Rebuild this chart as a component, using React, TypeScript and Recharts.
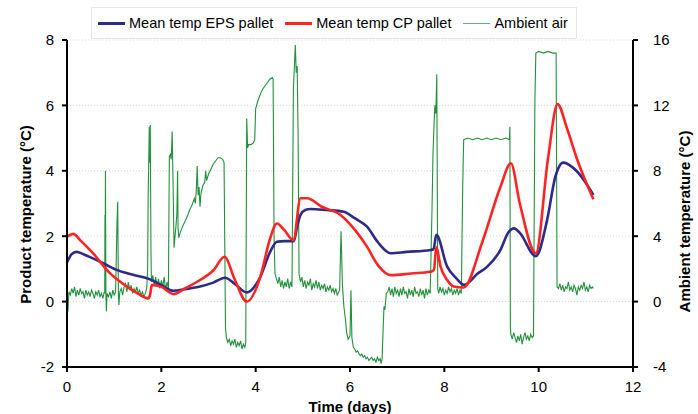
import React from 'react';
import { ComposedChart, Line, XAxis, YAxis, CartesianGrid, Legend } from 'recharts';

// Time (days), product temperature (°C)
const epsPallet: [number, number][] = [
  [0, 1.2], [0.1, 1.45], [0.2, 1.52], [0.35, 1.45], [0.55, 1.32], [0.8, 1.15], [1.05, 0.97],
  [1.4, 0.82], [1.76, 0.68], [2.0, 0.5], [2.26, 0.33], [2.5, 0.38], [2.82, 0.46], [3.1, 0.58],
  [3.35, 0.73], [3.55, 0.55], [3.81, 0.28], [4.1, 0.76], [4.3, 1.5], [4.45, 1.83], [4.6, 1.85],
  [4.81, 1.85], [4.88, 2.3], [4.95, 2.65], [5.05, 2.8], [5.16, 2.83], [5.5, 2.8], [5.87, 2.75],
  [6.1, 2.55], [6.36, 2.29], [6.6, 1.8], [6.86, 1.48], [7.2, 1.52], [7.71, 1.58], [7.77, 1.6],
  [7.83, 2.04], [8.06, 1.07], [8.25, 0.72], [8.42, 0.51], [8.7, 0.85], [8.91, 1.07], [9.19, 1.58],
  [9.35, 2.1], [9.48, 2.24], [9.6, 2.1], [9.94, 1.39], [10.18, 2.5], [10.35, 3.8], [10.52, 4.25],
  [10.82, 3.97], [11.16, 3.26],
];

const cpPallet: [number, number][] = [
  [0, 1.98], [0.13, 2.07], [0.3, 1.85], [0.55, 1.48], [0.91, 0.87], [1.27, 0.46], [1.5, 0.25],
  [1.72, 0.1], [1.76, 0.2], [1.8, 0.51], [2.0, 0.45], [2.26, 0.23], [2.5, 0.4], [2.82, 0.66],
  [3.1, 0.95], [3.34, 1.37], [3.55, 0.7], [3.81, 0.0], [4.1, 0.76], [4.3, 1.9], [4.45, 2.39],
  [4.6, 2.2], [4.8, 1.88], [4.95, 3.16], [5.09, 3.16], [5.4, 2.9], [5.8, 2.65], [6.1, 2.2],
  [6.36, 1.68], [6.6, 1.1], [6.86, 0.81], [7.3, 0.86], [7.71, 0.91], [7.78, 0.97], [7.83, 1.67],
  [7.92, 1.07], [8.06, 0.66], [8.2, 0.46], [8.41, 0.43], [8.8, 1.8], [9.19, 3.51], [9.41, 4.23],
  [9.6, 3.0], [9.94, 1.48], [10.2, 4.4], [10.4, 6.04], [10.6, 5.3], [10.82, 4.33], [11.16, 3.13],
];

// Time (days), ambient air temperature (°C)
const ambientAir: [number, number][] = [
  [0, 0.3], [0.02, -0.6], [0.04, 0.6], [0.07, 0.4], [0.1, 0.8], [0.13, 0.5], [0.16, 0.9], [0.19, 0.3],
  [0.22, 0.7], [0.25, 0.4], [0.28, 0.8], [0.31, 0.5], [0.34, 0.6], [0.37, 0.2], [0.4, 0.7], [0.43, 0.4],
  [0.46, 0.6], [0.49, 0.3], [0.52, 0.7], [0.55, 0.5], [0.58, 0.2], [0.61, 0.6], [0.64, 0.4], [0.67, 0.7],
  [0.7, 0.3], [0.73, 0.5], [0.76, 0.2], [0.79, 0.6], [0.8, 0.5], [0.805, 5.3], [0.81, 3.0], [0.815, 8.0],
  [0.825, 0.4], [0.835, -0.6], [0.85, 0.5], [0.88, 0.3], [0.91, 0.6], [0.94, 0.2], [0.97, 0.7], [1.0, 0.4],
  [1.03, 0.6], [1.06, 4.8], [1.075, 6.1], [1.09, 0.5], [1.1, -0.2], [1.12, 0.6], [1.15, 0.8], [1.18, 0.4],
  [1.21, 0.9], [1.24, 1.1], [1.27, 0.6], [1.3, 1.2], [1.33, 0.7], [1.36, 1.0], [1.39, 0.5], [1.42, 0.8],
  [1.45, 0.6], [1.48, 0.9], [1.51, 0.5], [1.54, 0.7], [1.57, 0.4], [1.6, 0.6], [1.63, 0.3], [1.66, 0.5],
  [1.69, 0.8], [1.71, 2.0], [1.72, 6.4], [1.73, 8.0], [1.745, 10.7], [1.755, 8.5], [1.765, 10.8],
  [1.78, 3.0], [1.79, 1.2], [1.82, 1.6], [1.85, 1.0], [1.88, 1.5], [1.91, 0.9], [1.94, 1.4], [1.97, 0.8],
  [2.0, 1.3], [2.03, 0.9], [2.06, 1.5], [2.09, 0.7], [2.12, 1.2], [2.15, 0.8], [2.17, 8.9], [2.19, 9.0],
  [2.21, 8.7], [2.23, 10.4], [2.25, 7.0], [2.27, 3.3], [2.29, 4.0], [2.31, 4.6], [2.33, 5.4], [2.345, 8.0],
  [2.355, 4.5], [2.37, 3.9], [2.4, 4.2], [2.45, 4.6], [2.5, 4.9], [2.55, 5.2], [2.6, 5.6], [2.65, 5.9],
  [2.7, 6.3], [2.72, 6.0], [2.74, 6.7], [2.76, 8.3], [2.78, 6.5], [2.8, 7.0], [2.82, 5.8], [2.84, 6.6],
  [2.88, 7.1], [2.92, 7.3], [2.94, 8.0], [2.96, 7.4], [3.0, 7.8], [3.05, 8.1], [3.1, 8.4], [3.15, 8.6],
  [3.2, 8.8], [3.25, 8.8], [3.3, 8.7], [3.33, 8.5], [3.36, -1.6], [3.38, -2.2], [3.41, -2.5], [3.44, -2.3],
  [3.47, -2.7], [3.5, -2.4], [3.53, -2.6], [3.56, -2.3], [3.59, -2.8], [3.62, -2.5], [3.65, -2.7],
  [3.68, -2.4], [3.71, -2.9], [3.74, -2.6], [3.77, -2.8], [3.79, -2.5], [3.81, 11.2], [3.83, 9.4],
  [3.85, 9.6], [3.9, 9.6], [3.95, 9.7], [3.98, 9.9], [4.0, 11.8], [4.05, 12.3], [4.1, 12.7], [4.15, 13.0],
  [4.2, 13.2], [4.25, 13.4], [4.3, 13.6], [4.35, 13.7], [4.37, 13.6], [4.39, 4.0], [4.41, 1.7], [4.44, 1.4],
  [4.47, 1.1], [4.5, 1.5], [4.53, 0.9], [4.56, 1.3], [4.59, 0.8], [4.62, 1.2], [4.65, 0.9], [4.68, 1.4],
  [4.71, 0.8], [4.74, 1.2], [4.77, 0.9], [4.8, 13.0], [4.82, 14.3], [4.84, 15.7], [4.86, 14.0], [4.88, 14.4],
  [4.9, 10.0], [4.92, 1.7], [4.95, 1.2], [4.98, 1.5], [5.01, 0.9], [5.04, 1.3], [5.07, 0.8], [5.1, 1.2],
  [5.13, 1.0], [5.16, 1.4], [5.19, 0.7], [5.22, 1.1], [5.25, 0.9], [5.28, 1.3], [5.31, 0.8], [5.34, 1.2],
  [5.37, 0.7], [5.4, 1.0], [5.43, 0.8], [5.46, 1.1], [5.49, 0.6], [5.52, 0.9], [5.55, 0.7], [5.58, 1.0],
  [5.61, 0.6], [5.64, 0.8], [5.67, 0.5], [5.7, 0.8], [5.73, 0.4], [5.78, 0.7], [5.81, 4.3], [5.84, 1.0],
  [5.87, -0.3], [5.9, -1.0], [5.93, -1.9], [5.96, -2.3], [6.0, -2.1], [6.02, 0.7], [6.04, -2.2],
  [6.07, -2.8], [6.1, -2.9], [6.13, -3.1], [6.16, -3.0], [6.19, -3.2], [6.22, -3.3], [6.25, -3.2],
  [6.28, -3.4], [6.31, -3.3], [6.34, -3.5], [6.37, -3.4], [6.4, -3.6], [6.43, -3.5], [6.46, -3.4],
  [6.49, -3.6], [6.52, -3.5], [6.55, -3.7], [6.58, -3.4], [6.61, -3.6], [6.64, -3.5], [6.66, -3.8],
  [6.68, -3.5], [6.72, -0.3], [6.74, -0.5], [6.77, 0.5], [6.8, 0.6], [6.83, 0.9], [6.86, 0.4], [6.89, 0.8],
  [6.92, 0.3], [6.95, 0.9], [6.98, 0.5], [7.01, 0.7], [7.04, 0.3], [7.07, 0.8], [7.1, 0.4], [7.13, 0.9],
  [7.16, 0.5], [7.19, 0.6], [7.22, 0.2], [7.25, 0.8], [7.28, 0.4], [7.31, 0.7], [7.34, 0.3], [7.37, 0.9],
  [7.4, 0.5], [7.43, 0.6], [7.46, 0.3], [7.49, 0.8], [7.52, 0.4], [7.55, 0.7], [7.58, 0.2], [7.61, 0.8],
  [7.64, 0.4], [7.67, 0.7], [7.7, 0.5], [7.74, 5.8], [7.76, 9.1], [7.78, 10.7], [7.8, 12.0], [7.82, 11.5],
  [7.84, 13.9], [7.86, 0.8], [7.88, 0.5], [7.91, 0.9], [7.94, 0.6], [7.97, 0.8], [8.0, 0.4], [8.03, 0.7],
  [8.06, 0.5], [8.09, 0.9], [8.12, 0.6], [8.15, 0.8], [8.18, 0.4], [8.21, 0.7], [8.24, 0.5], [8.27, 0.8],
  [8.3, 0.4], [8.33, 0.7], [8.36, 0.5], [8.39, 7.1], [8.41, 9.9], [8.5, 10.0], [8.6, 9.9], [8.7, 10.0],
  [8.8, 9.9], [8.9, 10.0], [9.0, 9.9], [9.1, 10.0], [9.2, 9.9], [9.3, 10.0], [9.38, 9.9], [9.39, 10.7],
  [9.4, -1.5], [9.41, -2.0], [9.44, -2.3], [9.47, -1.9], [9.5, -2.2], [9.53, -2.5], [9.56, -2.1],
  [9.59, -2.4], [9.62, -2.0], [9.65, -2.6], [9.68, -2.2], [9.71, -1.9], [9.74, -2.3], [9.77, -2.1],
  [9.8, -2.4], [9.83, -2.0], [9.86, -2.2], [9.89, -2.1], [9.92, 12.3], [9.94, 15.2], [10.0, 15.3],
  [10.1, 15.2], [10.2, 15.3], [10.3, 15.2], [10.37, 15.2], [10.39, 0.9], [10.42, 0.8], [10.45, 1.1],
  [10.48, 0.7], [10.51, 1.0], [10.54, 0.6], [10.57, 0.9], [10.6, 0.8], [10.63, 1.2], [10.66, 0.7],
  [10.69, 0.9], [10.72, 0.6], [10.75, 1.0], [10.78, 0.8], [10.81, 0.4], [10.84, 0.9], [10.87, 0.7],
  [10.9, 1.0], [10.93, 0.8], [10.96, 1.2], [10.99, 0.7], [11.02, 0.9], [11.05, 0.6], [11.08, 1.0],
  [11.11, 0.8], [11.14, 0.9], [11.16, 0.8],
];

const xTicks = [0, 2, 4, 6, 8, 10, 12];
const leftTicks = [-2, 0, 2, 4, 6, 8];
const rightTicks = [-4, 0, 4, 8, 12, 16];

const seriesNames = ['Mean temp EPS pallet', 'Mean temp CP pallet', 'Ambient air'];

const toRows = (arr: [number, number][]) => arr.map(([t, v]) => ({ t, v }));
const epsRows = toRows(epsPallet);
const cpRows = toRows(cpPallet);
const ambRows = toRows(ambientAir);

const FONT = '"Liberation Sans", Arial, sans-serif';
const BLUE = '#2D2A88';
const RED = '#FF2424';
const GREEN = '#22913C';
const legendColors = [BLUE, RED, '#6fae85'];

const LeftTitle = (props: any) => {
  const vb = props.viewBox || {};
  const cx = (vb.x ?? 0) + 25;
  const cy = (vb.y ?? 0) + (vb.height ?? 0) / 2 + 11;
  return (
    <text x={cx} y={cy} transform={`rotate(-90 ${cx} ${cy})`} textAnchor="middle"
      dominantBaseline="central" fontFamily={FONT} fontSize={15} fontWeight="bold" fill="#000">
      Product temperature (°C)
    </text>
  );
};

const RightTitle = (props: any) => {
  const vb = props.viewBox || {};
  const cx = (vb.x ?? 0) + 51;
  const cy = (vb.y ?? 0) + (vb.height ?? 0) / 2 + 18;
  return (
    <text x={cx} y={cy} transform={`rotate(-90 ${cx} ${cy})`} textAnchor="middle"
      dominantBaseline="central" fontFamily={FONT} fontSize={15} fontWeight="bold" fill="#000">
      Ambient temperature (°C)
    </text>
  );
};

const BottomTitle = (props: any) => {
  const vb = props.viewBox || {};
  const cx = (vb.x ?? 0) + (vb.width ?? 0) / 2;
  const cy = (vb.y ?? 0) + 39;
  return (
    <text x={cx} y={cy} textAnchor="middle" dominantBaseline="central"
      fontFamily={FONT} fontSize={15} fontWeight="bold" fill="#000">
      Time (days)
    </text>
  );
};

const LegendBox = () => {
  return (
    <div style={{
      border: '1px solid #e6e6e6', background: '#fff', height: 32, boxSizing: 'border-box',
      display: 'flex', alignItems: 'center', padding: '0 0 0 6px', fontFamily: FONT, fontSize: 14.5,
      color: '#000', whiteSpace: 'nowrap',
    }}>
      {seriesNames.map((name, i) => (
        <span key={name} style={{ display: 'inline-flex', alignItems: 'center', marginRight: 12 }}>
          <span style={{
            display: 'inline-block', width: 27, height: 0,
            borderTop: `${i === 2 ? 1.5 : 3}px solid ${legendColors[i]}`, marginRight: 4,
          }} />
          {name}
        </span>
      ))}
    </div>
  );
};

const tickStyle = { fontFamily: FONT, fontSize: 15, fill: '#000' };
const axisLine = { stroke: '#000', strokeWidth: 2 };
const tickLine = { stroke: '#000', strokeWidth: 2 };

export default function App() {
  return (
    <div style={{ position: 'absolute', left: 0, top: 0, width: 698, height: 414, background: '#fff' }}>
      <ComposedChart width={698} height={414} margin={{ top: 40, right: 0, bottom: 0, left: 0 }}>
        <CartesianGrid yAxisId="left" vertical={false} stroke="#d8d8d8" strokeDasharray="1 2" />
        <XAxis dataKey="t" type="number" domain={[0, 12]} ticks={xTicks} height={47}
          allowDataOverflow tick={tickStyle} axisLine={axisLine} tickLine={tickLine}
          tickSize={5} tickMargin={9} label={<BottomTitle />} />
        <YAxis yAxisId="left" type="number" domain={[-2, 8]} ticks={leftTicks} width={67}
          allowDataOverflow tick={tickStyle} axisLine={axisLine} tickLine={tickLine}
          tickSize={5} tickMargin={8} label={<LeftTitle />} />
        <YAxis yAxisId="right" orientation="right" type="number" domain={[-4, 16]} ticks={rightTicks}
          width={65} allowDataOverflow tick={tickStyle} axisLine={axisLine} tickLine={tickLine}
          tickSize={5} tickMargin={15} label={<RightTitle />} />
        <Legend layout="horizontal" verticalAlign="middle" align="center" content={<LegendBox />}
          wrapperStyle={{ top: 7, left: 91, width: 486, height: 32 }} />
        <Line yAxisId="right" data={ambRows} dataKey="v" name={seriesNames[2]} type="linear"
          stroke={GREEN} strokeWidth={1.1} dot={false} isAnimationActive={false} />
        <Line yAxisId="left" data={epsRows} dataKey="v" name={seriesNames[0]} type="monotone"
          stroke={BLUE} strokeWidth={2.6} dot={false} isAnimationActive={false} />
        <Line yAxisId="left" data={cpRows} dataKey="v" name={seriesNames[1]} type="monotone"
          stroke={RED} strokeWidth={2.6} dot={false} isAnimationActive={false} />
      </ComposedChart>
    </div>
  );
}
